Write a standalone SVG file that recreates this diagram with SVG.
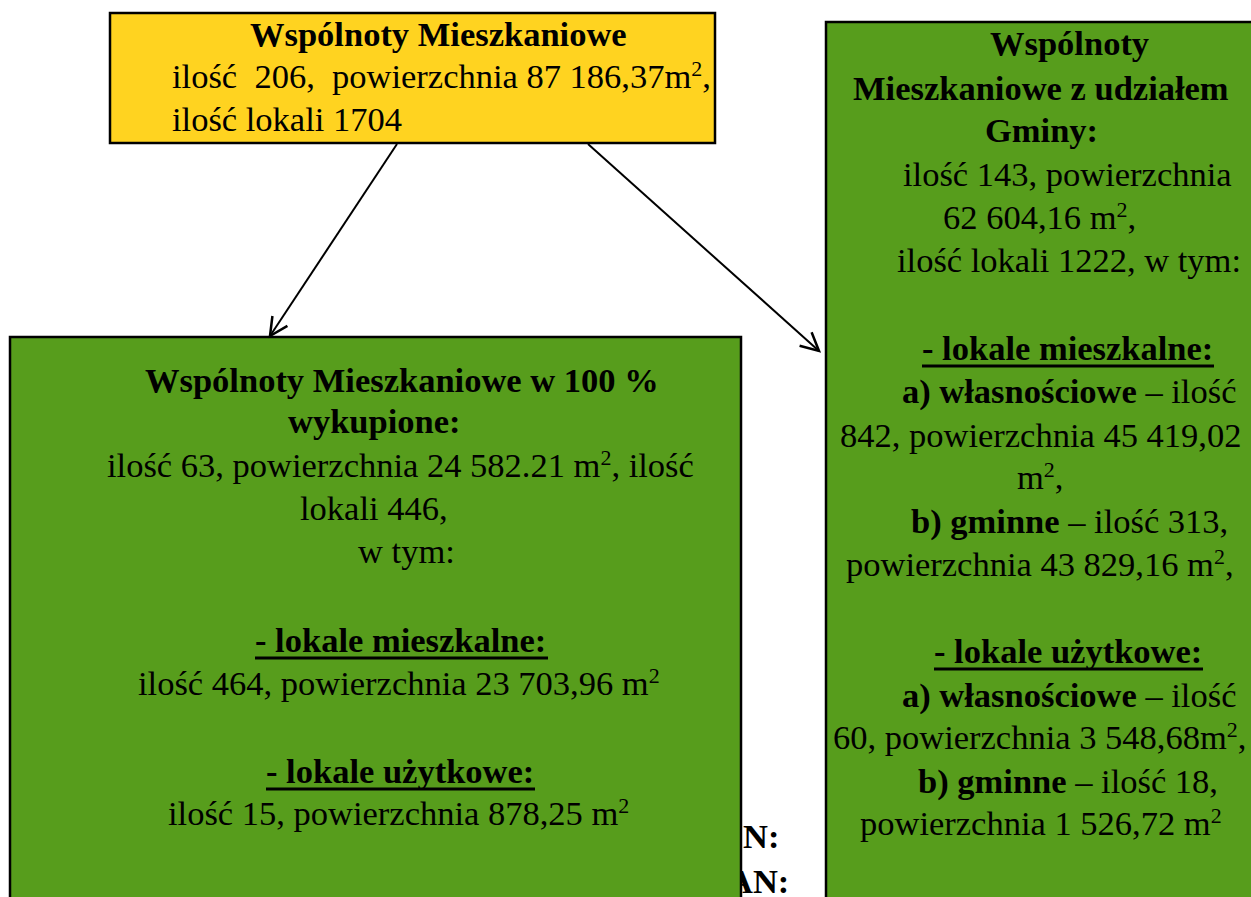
<svg xmlns="http://www.w3.org/2000/svg" width="1251" height="897" viewBox="0 0 1251 897">
<style>
.box{stroke:#000;stroke-width:2.5}
.yel{fill:#FFD320}
.grn{fill:#579D1C}
text{font-family:"Liberation Serif","Times New Roman",serif;font-size:34.5px;fill:#000}
.b{font-weight:bold}
.sup{font-size:22px}
.ul{stroke:#000;stroke-width:3}
.conn{stroke:#000;stroke-width:2;fill:none}
</style>
<defs>
<marker id="arr" markerUnits="userSpaceOnUse" markerWidth="40" markerHeight="40" refX="0" refY="0" orient="auto" overflow="visible">
<path d="M-18,-9 L0,0 L-18,9" fill="none" stroke="#000" stroke-width="2.5"/>
</marker>
</defs>
<rect width="1251" height="897" fill="#fff"/>

<g id="hidden-labels">
<text class="b" x="743" y="848">N:</text>
<text class="b" x="728" y="893">AN:</text>
</g>

<g id="node-top">
<rect class="box yel" x="110" y="13" width="605" height="130"/>
<text class="b" x="250" y="46">Wspólnoty Mieszkaniowe</text>
<text x="172" y="88" xml:space="preserve">ilość  206,  powierzchnia 87 186,37m<tspan class="sup" dy="-12">2</tspan><tspan dy="12">,</tspan></text>
<text x="172" y="131">ilość lokali 1704</text>
</g>

<g id="node-right">
<rect class="box grn" x="826" y="22" width="440" height="890"/>
<text class="b" x="990" y="55">Wspólnoty</text>
<text class="b" x="853" y="100">Mieszkaniowe z udziałem</text>
<text class="b" x="985" y="142">Gminy:</text>
<text x="903" y="186">ilość 143, powierzchnia</text>
<text x="943" y="229">62 604,16 m<tspan class="sup" dy="-12">2</tspan><tspan dy="12">,</tspan></text>
<text x="897" y="272">ilość lokali 1222, w tym:</text>
<text class="b" x="922" y="360">- lokale mieszkalne:</text>
<line class="ul" x1="922" y1="366" x2="1214" y2="366"/>
<text x="902" y="403"><tspan class="b">a) własnościowe</tspan> – ilość</text>
<text x="840" y="447">842, powierzchnia 45 419,02</text>
<text x="1017" y="489">m<tspan class="sup" dy="-12">2</tspan><tspan dy="12">,</tspan></text>
<text x="911" y="533"><tspan class="b">b) gminne</tspan> – ilość 313,</text>
<text x="846" y="576">powierzchnia 43 829,16 m<tspan class="sup" dy="-12">2</tspan><tspan dy="12">,</tspan></text>
<text class="b" x="934" y="663">- lokale użytkowe:</text>
<line class="ul" x1="934" y1="669" x2="1203" y2="669"/>
<text x="902" y="707"><tspan class="b">a) własnościowe</tspan> – ilość</text>
<text x="833" y="749">60, powierzchnia 3 548,68m<tspan class="sup" dy="-12">2</tspan><tspan dy="12">,</tspan></text>
<text x="918" y="793"><tspan class="b">b) gminne</tspan> – ilość 18,</text>
<text x="860" y="835">powierzchnia 1 526,72 m<tspan class="sup" dy="-12">2</tspan></text>
</g>

<g id="node-left">
<rect class="box grn" x="10" y="337" width="731" height="580"/>
<text class="b" x="145" y="392">Wspólnoty Mieszkaniowe w 100 %</text>
<text class="b" x="288" y="433">wykupione:</text>
<text x="107" y="477">ilość 63, powierzchnia 24 582.21 m<tspan class="sup" dy="-12">2</tspan><tspan dy="12">, ilość</tspan></text>
<text x="300" y="520">lokali 446,</text>
<text x="358" y="563">w tym:</text>
<text class="b" x="255" y="652">- lokale mieszkalne:</text>
<line class="ul" x1="255" y1="658" x2="548" y2="658"/>
<text x="138" y="695">ilość 464, powierzchnia 23 703,96 m<tspan class="sup" dy="-12">2</tspan></text>
<text class="b" x="266" y="783">- lokale użytkowe:</text>
<line class="ul" x1="266" y1="789" x2="535" y2="789"/>
<text x="168" y="825">ilość 15, powierzchnia 878,25 m<tspan class="sup" dy="-12">2</tspan></text>
</g>

<g id="connectors">
<line class="conn" x1="397" y1="144" x2="270" y2="336" marker-end="url(#arr)"/>
<line class="conn" x1="588" y1="144" x2="819" y2="351" marker-end="url(#arr)"/>
</g>
</svg>
